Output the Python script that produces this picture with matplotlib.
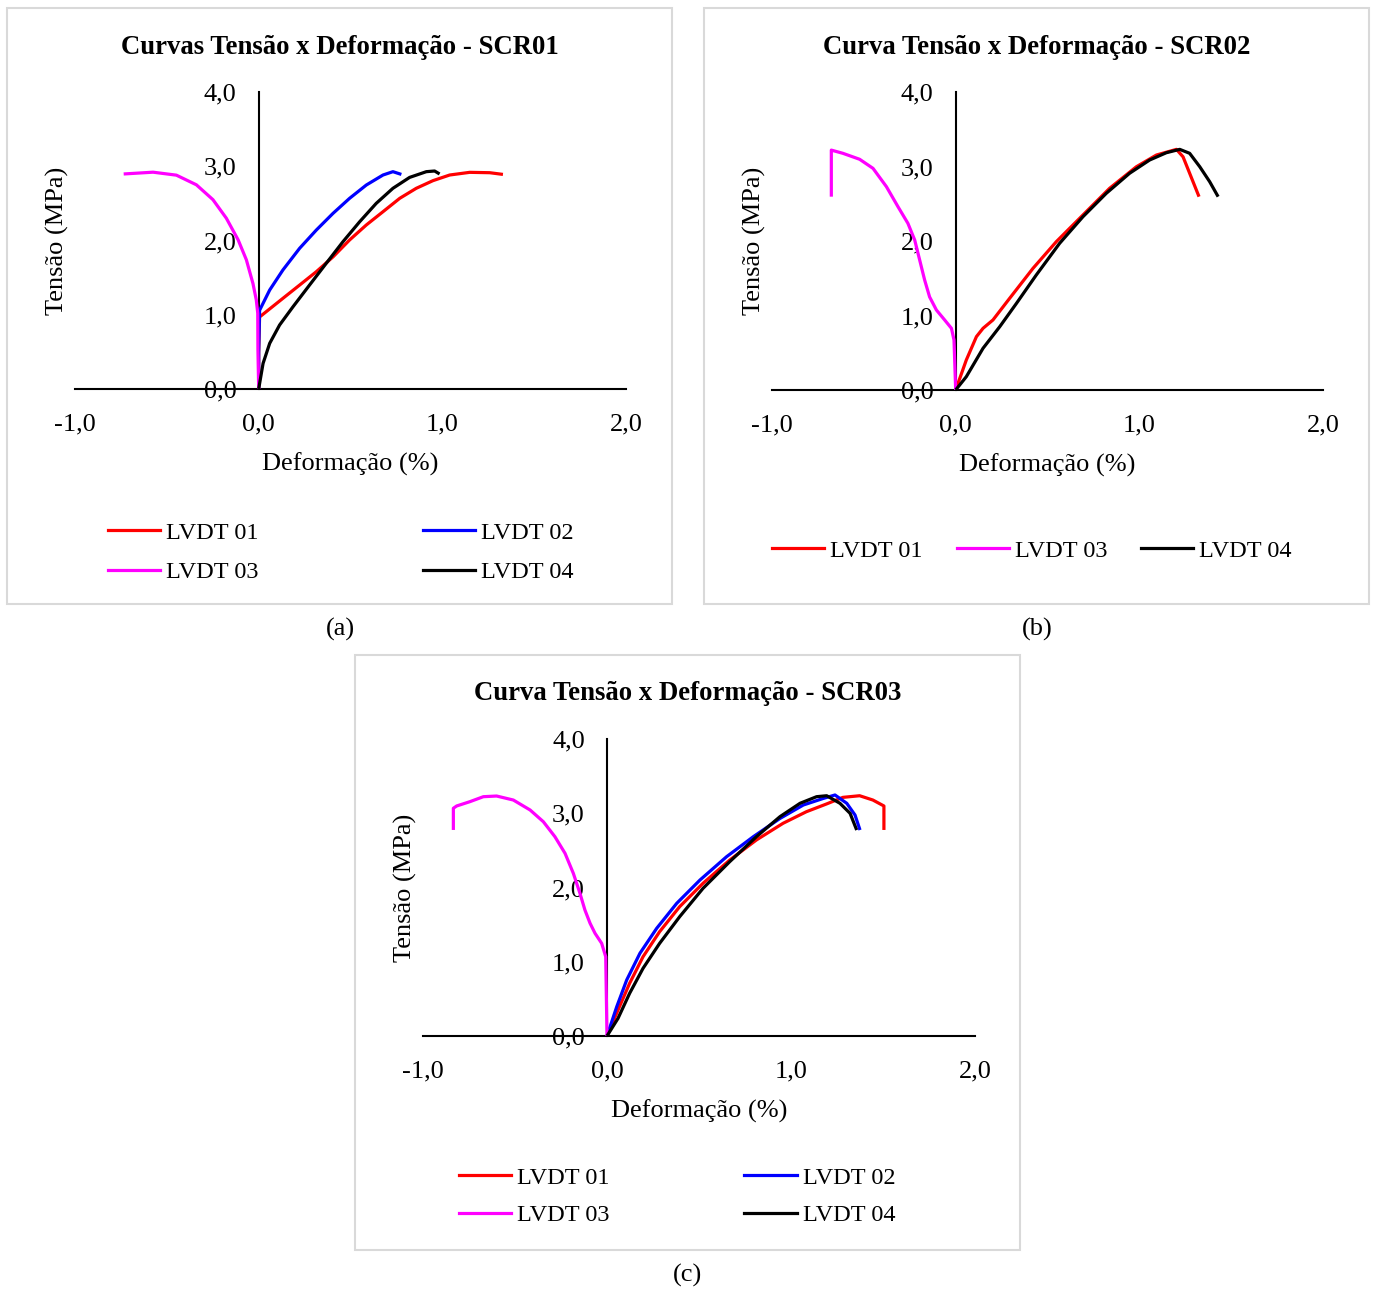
import matplotlib
matplotlib.use("Agg")
import matplotlib.pyplot as plt
from matplotlib.lines import Line2D
from matplotlib.patches import Rectangle
from matplotlib.ticker import FuncFormatter

plt.rcParams['font.family'] = ['Liberation Serif', 'DejaVu Serif']

W, H = 1374, 1289

# ---- SCR01 ----
a_x01 = [0, 0.0, 0.005, 0.132, 0.223, 0.314, 0.405, 0.495, 0.586, 0.677, 0.768, 0.858,
         0.949, 1.04, 1.149, 1.258, 1.33]
a_y01 = [0, 0.5, 0.97, 1.221, 1.40, 1.58, 1.78, 2.007, 2.209, 2.388, 2.568, 2.703,
         2.806, 2.882, 2.918, 2.913, 2.89]
a_x02 = [0, 0.0, 0.005, 0.06, 0.132, 0.223, 0.314, 0.405, 0.495, 0.586, 0.677, 0.731, 0.777]
a_y02 = [0, 0.5, 1.06, 1.333, 1.603, 1.895, 2.141, 2.366, 2.568, 2.747, 2.882, 2.927, 2.89]
a_x03 = [0, -0.004, -0.005, -0.013, -0.031, -0.067, -0.112, -0.176, -0.249, -0.339,
         -0.448, -0.575, -0.735]
a_y03 = [0, 0.53, 1.02, 1.20, 1.42, 1.74, 2.01, 2.30, 2.55, 2.75,
         2.88, 2.92, 2.896]
a_x04 = [0, 0.024, 0.06, 0.114, 0.187, 0.277, 0.368, 0.459, 0.55, 0.64, 0.731, 0.822,
         0.913, 0.958, 0.985]
a_y04 = [0, 0.345, 0.615, 0.862, 1.108, 1.40, 1.693, 1.984, 2.253, 2.50, 2.703, 2.85,
         2.927, 2.936, 2.896]

# ---- SCR02 ----
b_x01 = [0, 0.058, 0.113, 0.149, 0.203, 0.294, 0.421, 0.548, 0.693, 0.838, 0.984,
         1.093, 1.202, 1.238, 1.274, 1.325]
b_y01 = [0, 0.403, 0.716, 0.828, 0.94, 1.231, 1.633, 1.991, 2.349, 2.707, 2.997,
         3.154, 3.23, 3.13, 2.909, 2.595]
b_x03 = [0, -0.009, -0.023, -0.06, -0.105, -0.142, -0.169, -0.196, -0.223, -0.26,
         -0.314, -0.377, -0.45, -0.523, -0.614, -0.677, -0.677]
b_y03 = [0, 0.67, 0.828, 0.94, 1.074, 1.25, 1.477, 1.745, 2.013, 2.237,
         2.46, 2.729, 2.975, 3.097, 3.177, 3.22, 2.595]
b_x04 = [0, 0.058, 0.149, 0.24, 0.331, 0.439, 0.566, 0.693, 0.82, 0.947, 1.056,
         1.147, 1.22, 1.274, 1.329, 1.383, 1.429]
b_y04 = [0, 0.179, 0.56, 0.85, 1.163, 1.544, 1.969, 2.326, 2.64, 2.909, 3.087,
         3.185, 3.23, 3.177, 2.997, 2.796, 2.595]

# ---- SCR03 ----
c_x01 = [0, 0.06, 0.123, 0.196, 0.286, 0.395, 0.522, 0.667, 0.812, 0.957, 1.083,
         1.192, 1.282, 1.373, 1.445, 1.505, 1.505]
c_y01 = [0, 0.35, 0.71, 1.068, 1.405, 1.742, 2.057, 2.37, 2.64, 2.865, 3.02,
         3.124, 3.214, 3.236, 3.178, 3.098, 2.775]
c_x02 = [0, 0.053, 0.107, 0.179, 0.27, 0.379, 0.505, 0.65, 0.795, 0.94, 1.067,
         1.176, 1.239, 1.303, 1.348, 1.375]
c_y02 = [0, 0.395, 0.754, 1.114, 1.45, 1.787, 2.10, 2.415, 2.684, 2.93, 3.111,
         3.20, 3.246, 3.134, 2.976, 2.774]
c_x03 = [0, -0.005, -0.007, -0.029, -0.065, -0.092, -0.12, -0.147, -0.183, -0.228,
         -0.283, -0.346, -0.418, -0.509, -0.6, -0.672, -0.745, -0.817, -0.835, -0.835]
c_y03 = [0, 0.754, 1.068, 1.248, 1.383, 1.518, 1.697, 1.922, 2.191, 2.46,
         2.684, 2.886, 3.044, 3.178, 3.232, 3.223, 3.156, 3.098, 3.067, 2.775]
c_x04 = [0, 0.06, 0.123, 0.196, 0.286, 0.395, 0.522, 0.667, 0.812, 0.94, 1.049,
         1.139, 1.194, 1.266, 1.321, 1.357]
c_y04 = [0, 0.238, 0.575, 0.912, 1.248, 1.607, 1.989, 2.348, 2.684, 2.954, 3.134,
         3.223, 3.236, 3.134, 2.999, 2.774]

x_ticks = [-1.0, 0.0, 1.0, 2.0]
y_ticks = [0.0, 1.0, 2.0, 3.0, 4.0]

colors = {"LVDT 01": "#ff0000", "LVDT 02": "#0000ff",
          "LVDT 03": "#ff00ff", "LVDT 04": "#000000"}

FS = 19
LEG_FS = 17.5


def fx(px):
    return px / W


def fy(py):
    return 1 - py / H


fig = plt.figure(figsize=(W / 100, H / 100), dpi=100)
fig.patch.set_facecolor("white")

comma = FuncFormatter(lambda v, p: f"{v:.1f}".replace(".", ","))


def panel(box, axbox, title, series, legend_kw, caption, caption_xy):
    # outer chart frame
    x0, y0, x1, y1 = box
    fig.add_artist(Rectangle((fx(x0), fy(y1)), fx(x1 - x0), (y1 - y0) / H,
                             transform=fig.transFigure, fill=False,
                             edgecolor="#d9d9d9", linewidth=1.5))
    ax_l, ax_t, ax_r, ax_b = axbox
    ax = fig.add_axes([fx(ax_l), fy(ax_b), fx(ax_r - ax_l), (ax_b - ax_t) / H])
    ax.set_xlim(-1, 2)
    ax.set_ylim(0, 4)
    for name, (xs, ys) in series.items():
        ax.plot(xs, ys, color=colors[name], lw=2.3, zorder=3,
                solid_joinstyle="round", solid_capstyle="butt")
    ax.spines["top"].set_visible(False)
    ax.spines["right"].set_visible(False)
    ax.spines["left"].set_position(("data", 0))
    ax.spines["left"].set_linewidth(1.5)
    ax.spines["bottom"].set_linewidth(1.5)
    ax.set_xticks(x_ticks)
    ax.set_yticks(y_ticks)
    ax.xaxis.set_major_formatter(comma)
    ax.yaxis.set_major_formatter(comma)
    ax.tick_params(length=0, labelsize=FS, pad=16)
    ax.tick_params(axis="x", pad=17.5)
    ax.patch.set_alpha(0)
    cx = (ax_l + ax_r) / 2
    fig.text(fx(cx), fy(ax_b + 75), "Deformação (%)", fontsize=FS,
             ha="center", va="center")
    fig.text(fx(ax_l - 18), fy((ax_t + ax_b) / 2), "Tensão (MPa)", fontsize=FS,
             ha="center", va="center", rotation=90)
    fig.text(fx((x0 + x1) / 2), fy(y0 + 39), title, fontsize=19.3,
             fontweight="bold", ha="center", va="center")
    handles = [Line2D([], [], color=colors[n], lw=2.3) for n in legend_kw["order"]]
    fig.legend(handles, legend_kw["order"], loc="center left",
               bbox_to_anchor=(fx(legend_kw["x"]), fy(legend_kw["y"])),
               ncol=legend_kw["ncol"], frameon=False, fontsize=LEG_FS,
               handlelength=2.14, handletextpad=0.25,
               columnspacing=legend_kw["colsp"], labelspacing=legend_kw.get("lsp", 0.72),
               borderpad=0, borderaxespad=0)
    fig.text(fx(caption_xy[0]), fy(caption_xy[1]), caption, fontsize=FS,
             ha="center", va="center")


panel((7, 8, 672, 604), (75, 92, 626, 389),
      "Curvas Tensão x Deformação - SCR01",
      {"LVDT 01": (a_x01, a_y01), "LVDT 02": (a_x02, a_y02),
       "LVDT 03": (a_x03, a_y03), "LVDT 04": (a_x04, a_y04)},
      {"order": ["LVDT 01", "LVDT 03", "LVDT 02", "LVDT 04"], "ncol": 2,
       "x": 108, "y": 552.5, "colsp": 6.75, "lsp": 0.72},
      "(a)", (340, 629))

panel((704, 8, 1369, 604), (772, 92, 1323, 390),
      "Curva Tensão x Deformação - SCR02",
      {"LVDT 01": (b_x01, b_y01), "LVDT 03": (b_x03, b_y03),
       "LVDT 04": (b_x04, b_y04)},
      {"order": ["LVDT 01", "LVDT 03", "LVDT 04"], "ncol": 3,
       "x": 772, "y": 550.5, "colsp": 1.4},
      "(b)", (1037, 629))

panel((355, 655, 1020, 1250), (423, 739, 975, 1036),
      "Curva Tensão x Deformação - SCR03",
      {"LVDT 01": (c_x01, c_y01), "LVDT 02": (c_x02, c_y02),
       "LVDT 03": (c_x03, c_y03), "LVDT 04": (c_x04, c_y04)},
      {"order": ["LVDT 01", "LVDT 03", "LVDT 02", "LVDT 04"], "ncol": 2,
       "x": 459, "y": 1196.5, "colsp": 5.55, "lsp": 0.63},
      "(c)", (688, 1275))

fig.savefig("out.png", dpi=100, facecolor="white")
